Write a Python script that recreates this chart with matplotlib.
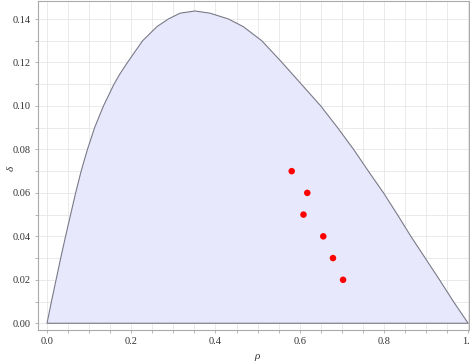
import matplotlib
matplotlib.use("Agg")
import matplotlib.pyplot as plt
from matplotlib.ticker import MultipleLocator

# boundary curve
rho_curve = [0, .0105, .0215, .0325, .044, .056, .068, .081, .096, .113, .134, .159,
             .173, .191, .227, .261, .288, .316, .351, .387, .431, .466, .510, .558,
             .604, .650, .690, .728, .763, .799, .832, .864, .898, .932, .965, 1.0]
delta_curve = [0, .01, .02, .03, .04, .05, .06, .07, .08, .09, .10, .11,
               .1147, .12, .13, .1365, .14, .1427, .1437, .1427, .14, .1365, .13, .12,
               .11, .10, .09, .08, .07, .06, .05, .04, .03, .02, .01, 0]

# red points
rho_pts = [0.581, 0.618, 0.609, 0.656, 0.679, 0.703]
delta_pts = [0.070, 0.060, 0.050, 0.040, 0.030, 0.020]

xticks = [0.0, 0.2, 0.4, 0.6, 0.8, 1.0]
yticks = [0.00, 0.02, 0.04, 0.06, 0.08, 0.10, 0.12, 0.14]

plt.rcParams['font.family'] = ['Liberation Serif', 'DejaVu Serif']
fig = plt.figure(figsize=(4.70, 3.64), dpi=100)
ax = fig.add_axes([38/470, 1-330/364, 431/470, 329/364])

ax.fill(rho_curve, delta_curve, facecolor='#e8e8fc', edgecolor='#7a7a88', linewidth=0.8,
        joinstyle='round', zorder=2)
ax.scatter(rho_pts, delta_pts, s=22, color='#ff0000', edgecolors='none', zorder=3)

ax.set_xlim(-0.0214, 1.002)
ax.set_ylim(-0.0031, 0.1483)
ax.set_xticks(xticks)
ax.set_yticks(yticks)
ax.set_xticklabels([f"{v:.1f}" for v in xticks])
ax.set_yticklabels([f"{v:.2f}" for v in yticks])
ax.xaxis.set_minor_locator(MultipleLocator(0.05))
ax.yaxis.set_minor_locator(MultipleLocator(0.01))
ax.grid(True, which='both', color='#e6e6e6', linewidth=0.6, zorder=0)
ax.set_axisbelow(True)
ax.tick_params(which='both', direction='out', length=2, width=0.5, color='#999999',
               labelsize=7.5, labelcolor='#333333', pad=3)
for s in ax.spines.values():
    s.set_color('#aaaaaa')
    s.set_linewidth(0.8)

ax.set_xlabel('ρ', fontsize=8, style='italic', color='#333333')
ax.set_ylabel('δ', fontsize=8, style='italic', color='#333333')
ax.xaxis.set_label_coords(0.508, -0.068)
ax.yaxis.set_label_coords(-0.052, 0.49)

fig.savefig('out.png', dpi=100)
